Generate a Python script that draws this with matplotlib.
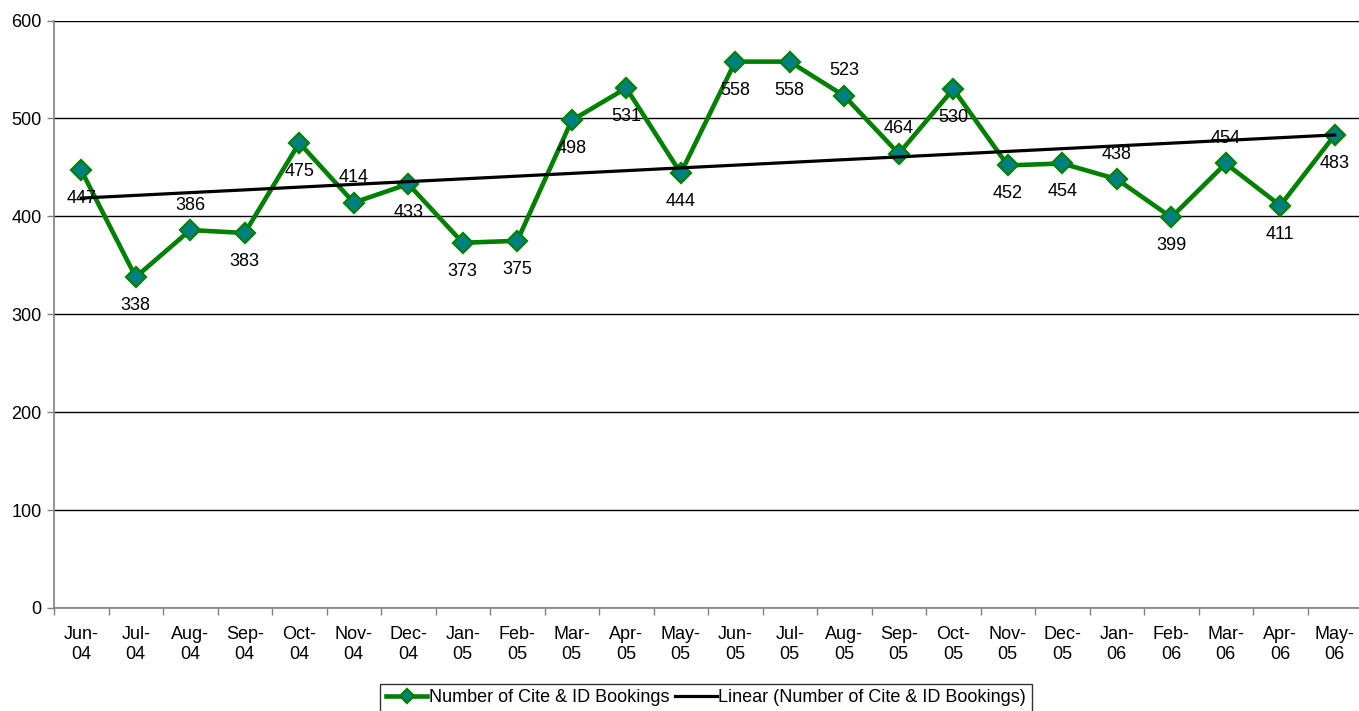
import numpy as np
import matplotlib
matplotlib.use("Agg")
import matplotlib.pyplot as plt

plt.rcParams['font.family'] = ['Liberation Sans', 'DejaVu Sans']

months = ["Jun-\n04", "Jul-\n04", "Aug-\n04", "Sep-\n04", "Oct-\n04", "Nov-\n04", "Dec-\n04",
          "Jan-\n05", "Feb-\n05", "Mar-\n05", "Apr-\n05", "May-\n05", "Jun-\n05", "Jul-\n05",
          "Aug-\n05", "Sep-\n05", "Oct-\n05", "Nov-\n05", "Dec-\n05", "Jan-\n06", "Feb-\n06",
          "Mar-\n06", "Apr-\n06", "May-\n06"]
bookings = [447, 338, 386, 383, 475, 414, 433, 373, 375, 498, 531, 444, 558, 558,
            523, 464, 530, 452, 454, 438, 399, 454, 411, 483]
# label placement: 1 = above, -1 = below
label_pos = [-1, -1, 1, -1, -1, 1, -1, -1, -1, -1, -1, -1, -1, -1,
             1, 1, -1, -1, -1, 1, -1, 1, -1, -1]
yticks = [0, 100, 200, 300, 400, 500, 600]

W, H = 1359, 711
fs = 13
fig = plt.figure(figsize=(W / 100, H / 100), dpi=100)
left, right, top, bottom = 54, 1362, 20.5, 608
ax = fig.add_axes([left / W, 1 - bottom / H, (right - left) / W, (bottom - top) / H])

x = np.arange(len(bookings))
line, = ax.plot(x, bookings, color='#008000', lw=3.3, marker='D', markersize=10.5,
                markerfacecolor='#008080', markeredgecolor='#008000', markeredgewidth=1.6,
                zorder=4, label='Number of Cite & ID Bookings', clip_on=False)
coef = np.polyfit(x, bookings, 1)
trend, = ax.plot(x, np.polyval(coef, x), color='black', lw=2.3, zorder=5,
                 label='Linear (Number of Cite & ID Bookings)', clip_on=False)

for xi, v, p in zip(x, bookings, label_pos):
    ax.annotate(str(v), (xi, v), xytext=(0, 18 if p > 0 else -20.5), textcoords='offset points',
                ha='center', va='center', fontsize=fs, zorder=6)

ax.set_xlim(-0.5, len(bookings) - 0.5)
ax.set_ylim(0, 600)
ax.set_yticks(yticks)
ax.set_yticklabels([str(t) for t in yticks], fontsize=fs)
ax.set_xticks(x)
ax.set_xticklabels(months, fontsize=fs, linespacing=1.25)
ax.set_xticks(np.arange(len(bookings) + 1) - 0.5, minor=True)
ax.tick_params(axis='x', which='major', length=0, pad=13)
ax.tick_params(axis='x', which='minor', length=5, color='#808080', width=1)
ax.tick_params(axis='y', length=5, color='#808080', width=1, pad=4)
ax.grid(axis='y', color='black', lw=1)
ax.set_axisbelow(True)
for s in ['top', 'right']:
    ax.spines[s].set_visible(False)
for s in ['left', 'bottom']:
    ax.spines[s].set_color('#808080')
    ax.spines[s].set_linewidth(1.2)

leg = fig.legend(handles=[line, trend], loc='upper center', bbox_to_anchor=(706 / W, 1 - 684 / H),
                 ncol=2, frameon=True, fancybox=False, edgecolor='black', fontsize=fs,
                 handlelength=2.3, handletextpad=0.1, columnspacing=0.3, borderpad=0.3,
                 borderaxespad=0, markerscale=0.65)
leg.get_frame().set_linewidth(1)

fig.savefig('out.png', dpi=100)
